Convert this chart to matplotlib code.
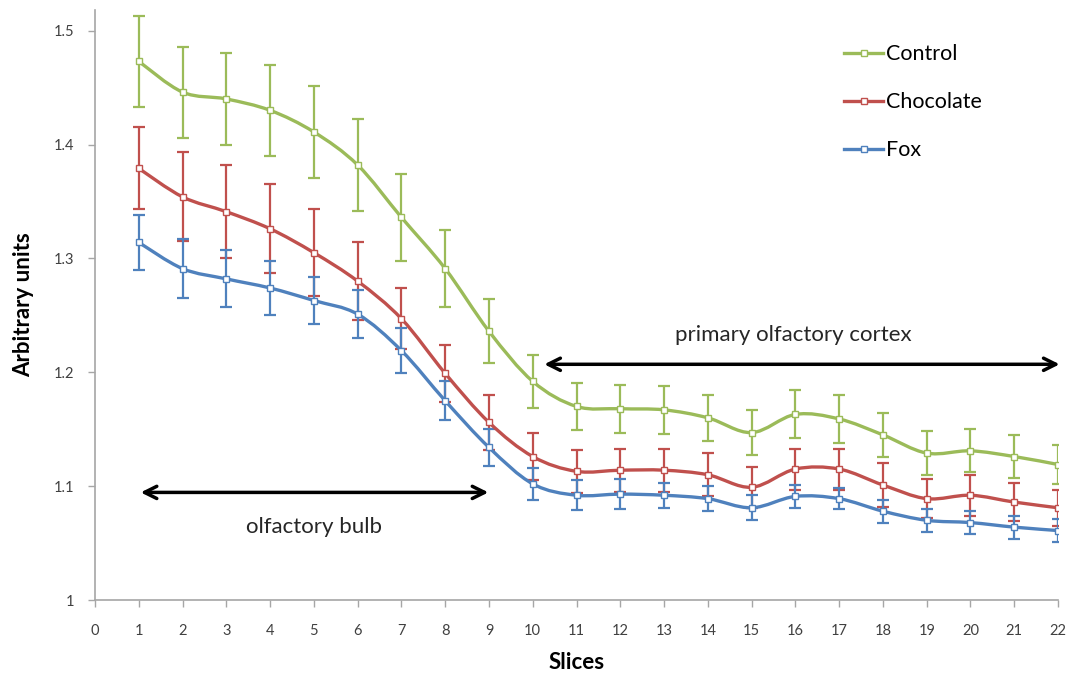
import numpy as np
import matplotlib
matplotlib.use("Agg")
import matplotlib.pyplot as plt
from matplotlib.path import Path
from matplotlib.patches import PathPatch

plt.rcParams['font.family'] = ['Lato', 'DejaVu Sans']

slices = list(range(1, 23))

control = [1.473, 1.446, 1.440, 1.430, 1.411, 1.382, 1.336, 1.291, 1.236, 1.192, 1.170,
           1.168, 1.167, 1.160, 1.147, 1.163, 1.159, 1.145, 1.129, 1.131, 1.126, 1.119]
control_err = [0.040, 0.040, 0.040, 0.040, 0.040, 0.040, 0.038, 0.034, 0.028, 0.023, 0.021,
               0.021, 0.021, 0.020, 0.020, 0.021, 0.021, 0.019, 0.019, 0.019, 0.019, 0.017]

chocolate = [1.379, 1.354, 1.341, 1.326, 1.305, 1.280, 1.247, 1.199, 1.156, 1.126, 1.113,
             1.114, 1.114, 1.110, 1.099, 1.115, 1.115, 1.101, 1.089, 1.092, 1.086, 1.081]
chocolate_err = [0.036, 0.039, 0.041, 0.039, 0.038, 0.034, 0.027, 0.025, 0.024, 0.021, 0.019,
                 0.019, 0.019, 0.019, 0.018, 0.018, 0.018, 0.019, 0.017, 0.018, 0.017, 0.016]

fox = [1.314, 1.291, 1.282, 1.274, 1.263, 1.251, 1.219, 1.175, 1.134, 1.102, 1.092,
       1.093, 1.092, 1.089, 1.081, 1.091, 1.089, 1.078, 1.070, 1.068, 1.064, 1.061]
fox_err = [0.024, 0.026, 0.025, 0.024, 0.021, 0.021, 0.020, 0.017, 0.016, 0.014, 0.013,
           0.013, 0.011, 0.011, 0.011, 0.010, 0.009, 0.010, 0.010, 0.010, 0.010, 0.010]

series = [("Control", control, control_err, "#9BBB59"),
          ("Chocolate", chocolate, chocolate_err, "#C0504D"),
          ("Fox", fox, fox_err, "#4F81BD")]


def smooth_path(x, y):
    # Catmull-Rom -> cubic bezier, like Excel's "smoothed line"
    pts = np.column_stack([x, y]).astype(float)
    n = len(pts)
    verts = [pts[0]]
    codes = [Path.MOVETO]
    for i in range(n - 1):
        p0 = pts[i - 1] if i > 0 else pts[i]
        p1 = pts[i]
        p2 = pts[i + 1]
        p3 = pts[i + 2] if i + 2 < n else pts[i + 1]
        c1 = p1 + (p2 - p0) / 6.0
        c2 = p2 - (p3 - p1) / 6.0
        verts += [c1, c2, p2]
        codes += [Path.CURVE4] * 3
    return Path(verts, codes)


fig = plt.figure(figsize=(10.7, 6.76), dpi=100)
ax = fig.add_axes([0.0888, 0.1124, 0.9, 0.8726])

for name, vals, err, col in series:
    ax.errorbar(slices, vals, yerr=err, fmt="none", ecolor=col, elinewidth=1.6,
                capsize=4, capthick=1.6, zorder=2)
    ax.add_patch(PathPatch(smooth_path(slices, vals), facecolor="none", edgecolor=col,
                           lw=2.4, zorder=3))
    ax.plot(slices, vals, linestyle="none", marker="s", markersize=4, markerfacecolor="white",
            markeredgecolor=col, markeredgewidth=1.0, zorder=4)
    # legend handle
    ax.plot([], [], color=col, lw=2.4, marker="s", markersize=4, markerfacecolor="white",
            markeredgecolor=col, markeredgewidth=1.0, label=name)

ax.set_xlim(0, 22)
ax.set_ylim(1.0, 1.518)
ax.set_xticks(range(0, 23))
ax.set_yticks([1.0, 1.1, 1.2, 1.3, 1.4, 1.5])
ax.set_yticklabels(["1", "1.1", "1.2", "1.3", "1.4", "1.5"])

for s in ["top", "right"]:
    ax.spines[s].set_visible(False)
for s in ["left", "bottom"]:
    ax.spines[s].set_color("#A6A6A6")
    ax.spines[s].set_linewidth(1.2)
ax.tick_params(axis="both", colors="#A6A6A6", labelcolor="#404040", labelsize=10.5,
               length=5, width=1.0, direction="out")
ax.tick_params(axis="x", pad=12)
ax.tick_params(axis="y", pad=10)

ax.set_xlabel("Slices", fontsize=16, fontweight="bold", labelpad=10)
ax.set_ylabel("Arbitrary units", fontsize=16, fontweight="bold", labelpad=14)

# annotations
ax.annotate("", xy=(0.98, 1.0945), xytext=(9.05, 1.0945),
            arrowprops=dict(arrowstyle="<->", lw=2.5, color="black", mutation_scale=22))
ax.text(5.0, 1.064, "olfactory bulb", fontsize=16, ha="center", va="center", color="#262626")
ax.annotate("", xy=(10.2, 1.207), xytext=(22.1, 1.207),
            arrowprops=dict(arrowstyle="<->", lw=2.5, color="black", mutation_scale=22),
            annotation_clip=False)
ax.text(15.95, 1.233, "primary olfactory cortex", fontsize=16, ha="center", va="center",
        color="#262626")

ax.legend(loc="upper left", bbox_to_anchor=(0.758, 0.975), frameon=False, fontsize=15.5,
          labelspacing=1.3, handlelength=1.8, handletextpad=0.15)

plt.savefig("out.png", dpi=100)
